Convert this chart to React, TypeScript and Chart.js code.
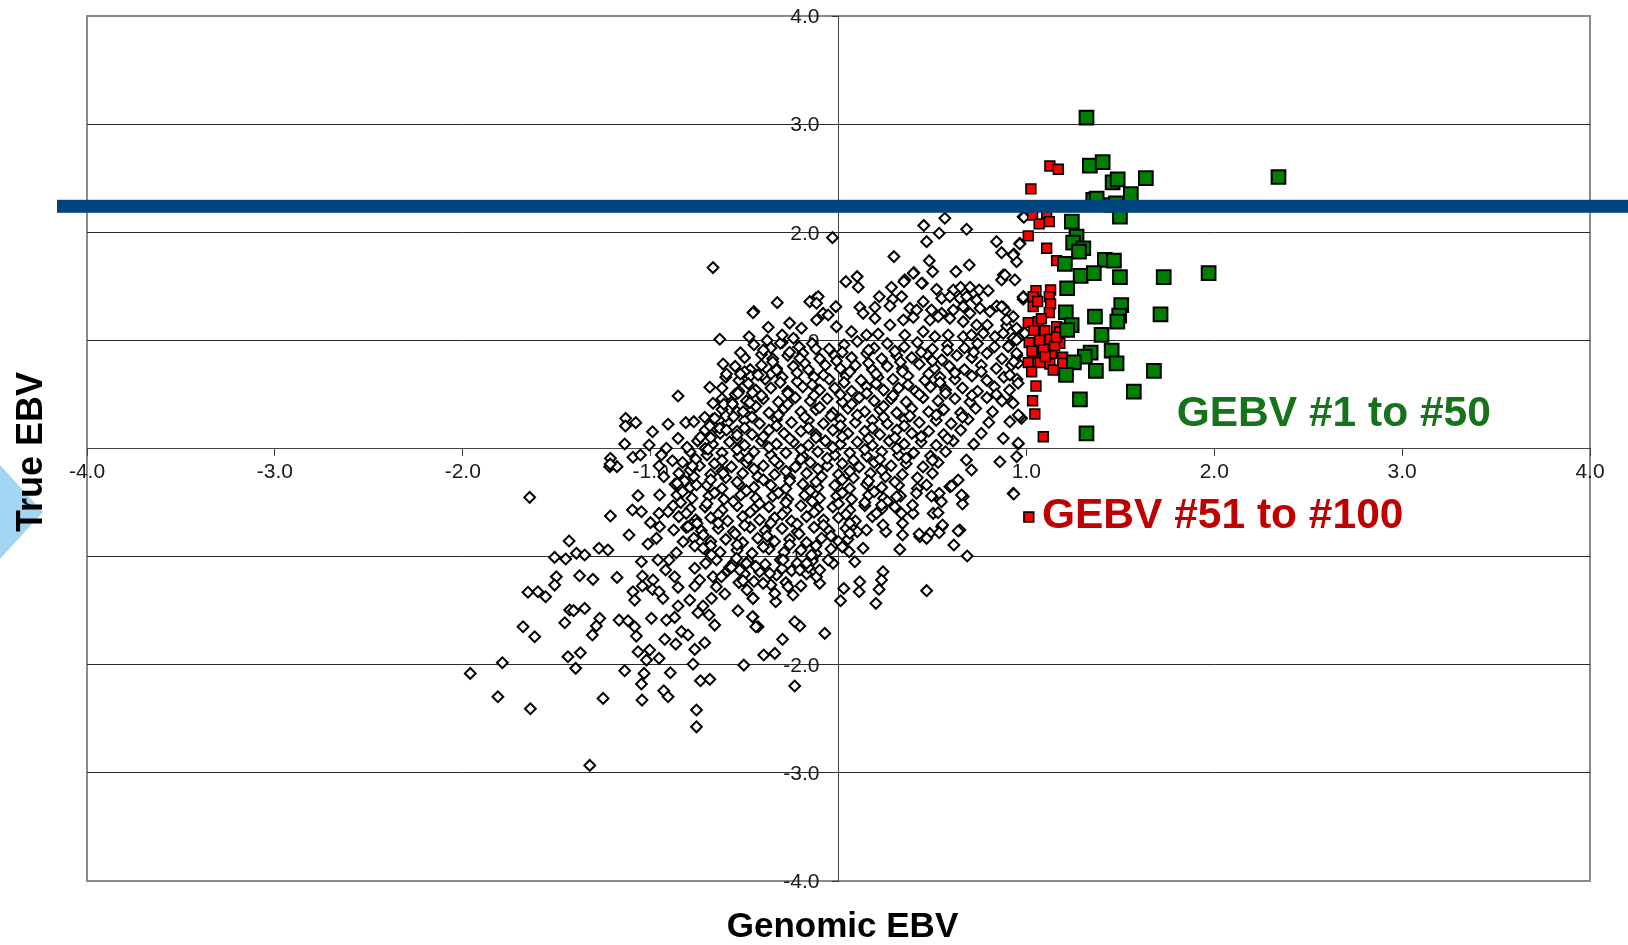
import React, { useEffect, useRef } from 'react';
import { Chart, registerables } from 'chart.js';

Chart.register(...registerables);

// ---- axes ----
const X_MIN = -4;
const X_MAX = 4;
const Y_MIN = -4;
const Y_MAX = 4;
const TICK_STEP = 1;
const X_TITLE = 'Genomic EBV';
const Y_TITLE = 'True EBV';

// threshold line on True EBV
const TRUE_EBV_THRESHOLD = 2.24;

// ---- annotation labels (data coordinates of text start / baseline) ----
const GREEN_LABEL = { text: 'GEBV #1 to #50', x: 1.8, y: 0.21 };
const RED_LABEL = { text: 'GEBV #51 to #100', x: 1.083, y: -0.735 };
const RED_LABEL_MARKER: [number, number][] = [[1.013, -0.634]];

// ---- top 50 GEBV (green) ----
const top50: [number, number][] = [
  [1.32, 3.06], [1.338, 2.616], [1.406, 2.648], [1.459, 2.462], [1.486, 2.49], [1.636, 2.5], [1.556, 2.352],
  [1.356, 2.299], [1.374, 2.31], [1.454, 2.252], [1.477, 2.268], [1.498, 2.144], [2.342, 2.511], [1.242, 2.098],
  [1.267, 1.959], [1.249, 1.904], [1.303, 1.852], [1.28, 1.82], [1.205, 1.707], [1.418, 1.744], [1.466, 1.737],
  [1.289, 1.596], [1.359, 1.621], [1.498, 1.584], [1.731, 1.584], [1.97, 1.621], [1.217, 1.482], [1.21, 1.26],
  [1.365, 1.219], [1.505, 1.327], [1.494, 1.228], [1.484, 1.173], [1.714, 1.241], [1.241, 1.142], [1.217, 1.096],
  [1.4, 1.05], [1.454, 0.905], [1.342, 0.886], [1.311, 0.849], [1.253, 0.797], [1.48, 0.788], [1.37, 0.717],
  [1.211, 0.68], [1.679, 0.717], [1.572, 0.526], [1.285, 0.455], [1.32, 0.14]
];

// ---- GEBV 51-100 (red) ----
const next50: [number, number][] = [
  [1.125, 2.613], [1.17, 2.583], [1.024, 2.401], [1.033, 2.16], [1.108, 2.176], [1.068, 2.077], [1.122, 2.098],
  [1.01, 1.966], [1.108, 1.852], [1.161, 1.737], [1.051, 1.46], [1.129, 1.466], [1.036, 1.404], [1.122, 1.404],
  [1.036, 1.312], [1.129, 1.337], [1.122, 1.256], [1.01, 1.164], [1.063, 1.173], [1.04, 1.09], [1.098, 1.09],
  [1.161, 1.127], [1.178, 1.08], [1.015, 0.979], [1.068, 0.967], [1.125, 1.01], [1.178, 0.973], [1.134, 0.881],
  [1.041, 0.881], [1.01, 0.794], [1.072, 0.794], [1.125, 0.782], [1.193, 0.844], [1.193, 0.788], [1.028, 0.71],
  [1.143, 0.726], [1.051, 0.578], [1.033, 0.442], [1.045, 0.319], [1.09, 0.109], [1.08, 1.2], [1.09, 0.92],
  [1.15, 0.95], [1.06, 1.36], [1.16, 1.03], [1.03, 0.9], [1.1, 0.85], [1.07, 1.0]
];

// ---- remaining animals (white diamonds) ----
const othersCore: [number, number][] = [
  [-0.45, 0.96], [-0.36, 0.93], [-0.3, 0.98], [-0.21, 0.94], [-0.14, 0.97], [-0.05, 0.92], [0.03, 0.96], [0.1, 0.99], [0.19, 0.93], [0.26, 0.97], [0.35, 0.94], [0.42, 0.98], [0.5, 0.92], [0.58, 0.96], [0.67, 0.93], [0.74, 0.97], [0.83, 0.94], [0.91, 0.96],
  [-0.5, 0.84], [-0.41, 0.87], [-0.35, 0.83], [-0.27, 0.86], [-0.19, 0.88], [-0.1, 0.83], [-0.02, 0.86], [0.07, 0.84], [0.15, 0.88], [0.23, 0.83], [0.31, 0.86], [0.39, 0.84], [0.47, 0.87], [0.55, 0.82], [0.63, 0.86], [0.71, 0.84], [0.79, 0.88], [0.87, 0.83], [0.95, 0.86],
  [-0.55, 0.76], [-0.47, 0.73], [-0.41, 0.77], [-0.33, 0.74], [-0.24, 0.76], [-0.16, 0.73], [-0.07, 0.77], [0.01, 0.74], [0.09, 0.77], [0.18, 0.73], [0.26, 0.76], [0.34, 0.74], [0.43, 0.78], [0.51, 0.74], [0.59, 0.76], [0.67, 0.73], [0.76, 0.77], [0.84, 0.74], [0.92, 0.77],
  [-0.6, 0.66], [-0.53, 0.63], [-0.47, 0.67], [-0.39, 0.64], [-0.3, 0.66], [-0.22, 0.62], [-0.13, 0.66], [-0.05, 0.64], [0.04, 0.67], [0.12, 0.63], [0.21, 0.66], [0.29, 0.64], [0.37, 0.67], [0.46, 0.63], [0.54, 0.66], [0.62, 0.64], [0.71, 0.67], [0.79, 0.63], [0.88, 0.66], [0.95, 0.64],
  [-0.62, 0.56], [-0.53, 0.53], [-0.44, 0.54], [-0.36, 0.56], [-0.27, 0.53], [-0.19, 0.57], [-0.1, 0.54], [-0.02, 0.56], [0.07, 0.53], [0.15, 0.57], [0.24, 0.54], [0.32, 0.56], [0.41, 0.53], [0.49, 0.57], [0.57, 0.54], [0.66, 0.56], [0.74, 0.53], [0.83, 0.57], [0.91, 0.54],
  [-0.62, 0.46], [-0.57, 0.43], [-0.49, 0.44], [-0.4, 0.46], [-0.32, 0.43], [-0.23, 0.47], [-0.15, 0.44], [-0.06, 0.46], [0.02, 0.43], [0.11, 0.47], [0.19, 0.44], [0.28, 0.46], [0.36, 0.43], [0.45, 0.47], [0.53, 0.44], [0.62, 0.46], [0.7, 0.43], [0.79, 0.47], [0.87, 0.44],
  [-0.62, 0.36], [-0.54, 0.34], [-0.46, 0.36], [-0.37, 0.33], [-0.29, 0.37], [-0.2, 0.34], [-0.12, 0.36], [-0.03, 0.33], [0.05, 0.37], [0.14, 0.34], [0.22, 0.36], [0.31, 0.33], [0.39, 0.37], [0.48, 0.34], [0.56, 0.36], [0.65, 0.33], [0.73, 0.37], [0.82, 0.34],
  [-0.67, 0.27], [-0.59, 0.24], [-0.5, 0.26], [-0.42, 0.23], [-0.33, 0.27], [-0.25, 0.24], [-0.16, 0.26], [-0.08, 0.23], [0.01, 0.27], [0.09, 0.24], [0.18, 0.26], [0.26, 0.23], [0.35, 0.27], [0.43, 0.24], [0.52, 0.26], [0.6, 0.23], [0.69, 0.27], [0.8, 0.24],
  [-0.71, 0.17], [-0.63, 0.14], [-0.54, 0.16], [-0.46, 0.13], [-0.37, 0.17], [-0.29, 0.14], [-0.2, 0.16], [-0.12, 0.13], [-0.03, 0.17], [0.05, 0.14], [0.14, 0.16], [0.22, 0.13], [0.31, 0.17], [0.39, 0.14], [0.48, 0.16], [0.56, 0.13], [0.65, 0.17], [0.76, 0.14],
  [-0.75, 0.07], [-0.67, 0.04], [-0.58, 0.06], [-0.5, 0.03], [-0.41, 0.07], [-0.33, 0.04], [-0.24, 0.06], [-0.16, 0.03], [-0.07, 0.07], [0.01, 0.04], [0.1, 0.06], [0.18, 0.03], [0.27, 0.07], [0.35, 0.04], [0.44, 0.06], [0.52, 0.03], [0.61, 0.07], [0.72, 0.04],
  [-0.79, -0.03], [-0.7, -0.06], [-0.62, -0.04], [-0.53, -0.07], [-0.45, -0.03], [-0.36, -0.06], [-0.28, -0.04], [-0.19, -0.07], [-0.11, -0.03], [-0.02, -0.06], [0.06, -0.04], [0.15, -0.07], [0.23, -0.03], [0.32, -0.06], [0.4, -0.04], [0.49, -0.07], [0.57, -0.03],
  [-0.83, -0.13], [-0.74, -0.16], [-0.66, -0.14], [-0.57, -0.17], [-0.49, -0.13], [-0.4, -0.16], [-0.32, -0.14], [-0.23, -0.17], [-0.15, -0.13], [-0.06, -0.16], [0.02, -0.14], [0.11, -0.17], [0.19, -0.13], [0.28, -0.16], [0.36, -0.14], [0.45, -0.17], [0.53, -0.13],
  [-0.85, -0.23], [-0.77, -0.26], [-0.68, -0.24], [-0.6, -0.27], [-0.51, -0.23], [-0.43, -0.26], [-0.34, -0.24], [-0.26, -0.27], [-0.17, -0.23], [-0.09, -0.26], [0.0, -0.24], [0.08, -0.27], [0.17, -0.23], [0.25, -0.26], [0.34, -0.24], [0.42, -0.27], [0.5, -0.23],
  [-0.87, -0.33], [-0.79, -0.36], [-0.7, -0.34], [-0.62, -0.37], [-0.53, -0.33], [-0.45, -0.36], [-0.36, -0.34], [-0.28, -0.37], [-0.19, -0.33], [-0.11, -0.36], [-0.02, -0.34], [0.06, -0.37], [0.15, -0.33], [0.23, -0.36], [0.32, -0.34], [0.42, -0.37],
  [-0.86, -0.43], [-0.78, -0.46], [-0.69, -0.44], [-0.61, -0.47], [-0.52, -0.43], [-0.44, -0.46], [-0.35, -0.44], [-0.27, -0.47], [-0.18, -0.43], [-0.1, -0.46], [-0.01, -0.44], [0.07, -0.47], [0.16, -0.43], [0.24, -0.46], [0.33, -0.44],
  [-0.88, -0.53], [-0.79, -0.56], [-0.71, -0.54], [-0.62, -0.57], [-0.54, -0.53], [-0.45, -0.56], [-0.37, -0.54], [-0.28, -0.57], [-0.2, -0.53], [-0.11, -0.56], [-0.03, -0.54], [0.06, -0.57], [0.14, -0.53], [0.23, -0.56], [0.3, -0.54],
  [-0.85, -0.63], [-0.76, -0.66], [-0.68, -0.64], [-0.59, -0.67], [-0.51, -0.63], [-0.42, -0.66], [-0.34, -0.64], [-0.25, -0.67], [-0.17, -0.63], [-0.08, -0.66], [0.0, -0.64], [0.09, -0.67], [0.18, -0.63],
  [-0.81, -0.73], [-0.73, -0.76], [-0.64, -0.74], [-0.56, -0.77], [-0.47, -0.73], [-0.39, -0.76], [-0.3, -0.74], [-0.22, -0.77], [-0.13, -0.73], [-0.05, -0.76], [0.04, -0.74], [0.1, -0.77],
  [-0.77, -0.83], [-0.68, -0.86], [-0.6, -0.84], [-0.51, -0.87], [-0.43, -0.83], [-0.34, -0.86], [-0.26, -0.84], [-0.17, -0.87], [-0.09, -0.83], [0.0, -0.86], [0.05, -0.84],
  [-0.71, -0.93], [-0.63, -0.96], [-0.54, -0.94], [-0.46, -0.97], [-0.37, -0.93], [-0.29, -0.96], [-0.2, -0.94], [-0.12, -0.97], [-0.04, -0.93],
  [-0.65, -1.03], [-0.56, -1.06], [-0.48, -1.04], [-0.39, -1.07], [-0.31, -1.03], [-0.22, -1.06], [-0.14, -1.04],
  [-0.59, -1.13], [-0.5, -1.16], [-0.42, -1.14], [-0.33, -1.17], [-0.25, -1.13], [-0.17, -1.16],
  [-0.53, -1.24], [-0.45, -1.23], [-0.36, -1.26], [-0.28, -1.24], [-0.2, -1.27]
];

const othersDense: [number, number][] = [
  [-0.61, 0.41], [-0.44, 0.39], [-0.27, 0.41], [-0.1, 0.38], [0.07, 0.41], [0.24, 0.39],
  [-0.66, 0.2], [-0.5, 0.19], [-0.33, 0.21], [-0.16, 0.19], [0.01, 0.21], [0.18, 0.19], [0.35, 0.21],
  [-0.71, 0.0], [-0.54, -0.01], [-0.37, 0.01], [-0.2, -0.01], [-0.03, 0.01], [0.14, -0.01], [0.31, 0.0],
  [-0.79, -0.2], [-0.62, -0.21], [-0.45, -0.19], [-0.28, -0.21], [-0.11, -0.19], [0.06, -0.21], [0.23, -0.2],
  [-0.83, -0.4], [-0.66, -0.41], [-0.49, -0.39], [-0.32, -0.41], [-0.15, -0.39], [0.02, -0.41], [0.19, -0.4],
  [-0.81, -0.6], [-0.64, -0.61], [-0.47, -0.59], [-0.3, -0.61], [-0.13, -0.59], [0.04, -0.61],
  [-0.72, -0.8], [-0.55, -0.79], [-0.38, -0.81], [-0.21, -0.79], [-0.04, -0.81],
  [-0.48, 0.6], [-0.31, 0.61], [-0.14, 0.59], [0.03, 0.61], [0.2, 0.6], [0.37, 0.59], [0.54, 0.61],
  [-0.35, 0.8], [-0.18, 0.79], [-0.01, 0.81], [0.16, 0.79], [0.33, 0.8], [0.5, 0.81]
];

const othersDenseB: [number, number][] = [
  [-0.4, 0.91], [-0.26, 0.89], [-0.12, 0.92], [0.02, 0.89], [0.16, 0.91], [0.3, 0.9], [0.44, 0.89], [0.58, 0.91], [0.72, 0.89],
  [-0.5, 0.71], [-0.36, 0.69], [-0.22, 0.7], [-0.08, 0.68], [0.06, 0.71], [0.2, 0.69], [0.34, 0.71], [0.48, 0.69], [0.62, 0.7], [0.76, 0.71],
  [-0.55, 0.5], [-0.41, 0.49], [-0.27, 0.51], [-0.13, 0.49], [0.01, 0.5], [0.15, 0.51], [0.29, 0.49], [0.43, 0.5], [0.57, 0.51], [0.71, 0.49], [0.84, 0.5],
  [-0.6, 0.3], [-0.46, 0.29], [-0.32, 0.31], [-0.18, 0.29], [-0.04, 0.3], [0.1, 0.31], [0.24, 0.29], [0.38, 0.3], [0.52, 0.31], [0.66, 0.29],
  [-0.68, 0.1], [-0.54, 0.09], [-0.4, 0.11], [-0.26, 0.09], [-0.12, 0.1], [0.02, 0.11], [0.16, 0.09], [0.3, 0.1], [0.44, 0.11], [0.58, 0.09],
  [-0.76, -0.1], [-0.62, -0.11], [-0.48, -0.09], [-0.34, -0.11], [-0.2, -0.1], [-0.06, -0.09], [0.08, -0.11], [0.22, -0.1], [0.36, -0.09], [0.5, -0.11],
  [-0.82, -0.3], [-0.68, -0.29], [-0.54, -0.31], [-0.4, -0.29], [-0.26, -0.3], [-0.12, -0.31], [0.02, -0.29], [0.16, -0.3], [0.3, -0.31],
  [-0.84, -0.5], [-0.7, -0.51], [-0.56, -0.49], [-0.42, -0.51], [-0.28, -0.5], [-0.14, -0.49], [0.0, -0.51], [0.14, -0.5], [0.26, -0.49],
  [-0.78, -0.7], [-0.64, -0.69], [-0.5, -0.71], [-0.36, -0.69], [-0.22, -0.7], [-0.08, -0.71], [0.06, -0.69],
  [-0.68, -0.9], [-0.54, -0.89], [-0.4, -0.91], [-0.26, -0.89], [-0.12, -0.9], [0.02, -0.91],
  [-0.58, -1.1], [-0.44, -1.09], [-0.3, -1.11], [-0.16, -1.1]
];

const othersUpper: [number, number][] = [
  [-0.032, 1.95], [0.295, 1.775], [0.454, 2.063], [0.566, 2.129], [0.469, 1.913], [0.536, 1.991], [0.682, 2.028],
  [0.841, 1.913], [0.868, 1.811], [0.933, 1.799], [0.948, 1.728], [0.965, 1.898], [0.983, 2.144], [0.483, 1.737],
  [0.501, 1.636], [0.625, 1.636], [0.696, 1.697], [0.877, 1.605], [0.939, 1.559], [0.039, 1.543], [0.099, 1.59],
  [0.105, 1.491], [0.401, 1.626], [0.353, 1.559], [0.447, 1.528], [-0.326, 1.349], [-0.121, 1.389], [-0.451, 1.266],
  [-0.374, 1.121], [-0.309, 0.973], [-0.206, 0.834], [-0.33, 0.726], [-0.405, 0.68],
  [0.282, 1.491], [0.348, 1.543], [0.398, 1.621], [0.442, 1.528], [0.522, 1.472], [0.611, 1.466], [0.65, 1.491],
  [0.7, 1.491], [0.749, 1.466], [0.797, 1.46], [0.868, 1.559], [0.886, 1.605], [-0.108, 1.405], [-0.153, 1.358],
  [-0.117, 1.343], [0.217, 1.405], [0.288, 1.38], [0.336, 1.405], [0.451, 1.358], [0.549, 1.389], [0.593, 1.405],
  [0.646, 1.389], [0.682, 1.405], [0.735, 1.374], [0.842, 1.318], [0.877, 1.306], [0.984, 1.405], [-0.014, 1.312],
  [0.114, 1.306], [0.194, 1.306], [0.274, 1.318], [0.38, 1.297], [0.416, 1.281], [0.495, 1.281], [0.549, 1.25],
  [0.611, 1.281], [0.664, 1.312], [0.7, 1.25], [0.753, 1.297], [0.806, 1.266], [0.886, 1.281], [0.93, 1.22],
  [-0.082, 1.25], [-0.117, 1.189], [-0.055, 1.235], [0.131, 1.25], [0.194, 1.204], [0.345, 1.189], [0.398, 1.213],
  [0.487, 1.189], [0.531, 1.22], [0.593, 1.204], [0.664, 1.173], [0.735, 1.142], [0.792, 1.142], [0.895, 1.133],
  [0.948, 1.112], [-0.197, 1.112], [-0.011, 1.127], [0.069, 1.081], [0.149, 1.05], [0.211, 1.059], [0.274, 1.142],
  [0.353, 1.05], [0.451, 1.081], [0.513, 1.035], [0.584, 1.05], [0.664, 1.035], [0.708, 1.05], [0.771, 1.065],
  [0.833, 1.035], [0.877, 1.065], [0.957, 1.019], [-0.26, 1.16], [-0.3, 1.05], [-0.38, 1.0], [-0.24, 1.02]
];

const othersUpperLeft: [number, number][] = [
  [-0.668, 1.673], [-0.455, 1.256], [-0.632, 1.01], [-0.476, 1.034], [-0.522, 0.886], [-0.614, 0.782], [-0.596, 0.689],
  [-0.522, 0.689], [-0.428, 0.68], [-0.685, 0.566], [-0.854, 0.486], [-0.535, 0.511], [-0.458, 0.516], [-0.668, 0.418],
  [-0.564, 0.412], [-0.472, 0.424], [-1.133, 0.279], [-1.079, 0.239], [-1.134, 0.208], [-0.99, 0.155], [-0.907, 0.224],
  [-0.813, 0.239], [-0.77, 0.248], [-0.712, 0.289], [-0.659, 0.279], [-0.685, 0.208], [-0.854, 0.094], [-0.735, 0.104],
  [-0.632, 0.187], [-0.596, 0.171], [-0.54, 0.125], [-0.558, 0.294], [-0.508, 0.34], [-1.138, 0.042], [-1.008, 0.032],
  [-0.916, 0.002], [-0.806, 0.011], [-0.694, -0.007], [-1.094, -0.081], [-1.054, -0.06], [-1.214, -0.091],
  [-1.218, -0.168], [-1.179, -0.168], [-0.943, -0.06], [-0.884, -0.113], [-0.955, -0.162], [-0.778, -0.162],
  [-0.93, -0.261], [-0.859, -0.322], [-0.756, -0.338], [-0.614, -0.23]
];

const othersRightEdge: [number, number][] = [
  [0.987, 2.139], [0.965, 1.892], [0.93, 1.79], [0.983, 1.38], [0.868, 1.312], [0.895, 1.189], [0.93, 1.019],
  [0.903, 0.942], [0.948, 0.881], [0.956, 0.788], [0.912, 0.68], [0.956, 0.603], [0.921, 0.433], [0.974, 0.279],
  [0.912, 0.248], [0.983, 1.399], [0.992, 1.066], [0.948, 1.004], [0.933, 0.803], [0.93, 0.418], [0.965, 0.294],
  [0.956, 0.042], [0.957, 0.31], [0.877, 0.094], [0.957, 0.048], [0.948, -0.075], [0.859, -0.122], [0.93, -0.415],
  [0.681, -0.106], [0.708, -0.199], [0.637, -0.291], [0.664, -0.445], [0.646, -0.754], [0.593, -0.353],
  [0.54, -0.476], [0.504, -0.6], [0.549, -0.723], [0.486, -0.785], [0.433, -0.816]
];

const othersLowerRight: [number, number][] = [
  [0.933, -0.421], [0.685, -0.994], [0.637, -0.763], [0.614, -0.893], [0.66, -0.513], [0.655, -0.43], [0.602, -0.347],
  [0.536, -0.415], [0.548, -0.492], [0.53, -0.594], [0.554, -0.708], [0.536, -0.779], [0.469, -0.831], [0.429, -0.791],
  [0.469, -1.315], [0.341, -0.8], [0.326, -0.933], [0.341, -0.692], [0.397, -0.6], [0.394, -0.523], [0.415, -0.415],
  [0.469, -0.338], [0.495, -0.439], [0.252, -0.769], [0.237, -0.708], [0.237, -1.14], [0.229, -1.216], [0.216, -1.303],
  [0.199, -1.432], [0.113, -1.232], [0.11, -1.325], [0.028, -1.294], [0.011, -1.408], [0.087, -1.047], [0.057, -0.955],
  [0.131, -0.923], [-0.073, -1.71], [-0.206, -1.642], [-0.233, -1.602], [-0.298, -1.765], [-0.398, -1.91],
  [-0.339, -1.895], [-0.233, -2.197], [-0.428, -1.648], [-0.455, -1.556], [-0.334, -1.417], [-0.1, -1.247],
  [-0.029, -1.062], [-0.455, -1.386], [-0.339, -1.34], [-0.242, -1.355], [-0.268, -1.278], [-0.117, -1.186],
  [-0.055, -1.031], [-0.1, -1.124], [-0.17, -1.062], [-0.206, -1.124], [-0.144, -0.985], [-0.295, -1.031],
  [-0.366, -1.155], [-0.401, -1.247], [0.149, -0.754], [0.06, -0.785], [0.335, -0.6], [0.309, -0.446], [0.229, -0.523],
  [0.202, -0.6]
];

const othersLowerLeft: [number, number][] = [
  [-1.644, -0.452], [-1.214, -0.624], [-1.067, -0.436], [-1.097, -0.569], [-1.049, -0.585], [-1.115, -0.8],
  [-1.434, -0.856], [-1.511, -1.007], [-1.452, -1.022], [-1.395, -0.969], [-1.351, -0.985], [-1.275, -0.923],
  [-1.227, -0.939], [-1.502, -1.186], [-1.511, -1.263], [-1.378, -1.177], [-1.307, -1.21], [-1.179, -1.192],
  [-1.653, -1.33], [-1.6, -1.325], [-1.559, -1.371], [-1.431, -1.494], [-1.41, -1.5], [-1.351, -1.479],
  [-1.457, -1.611], [-1.679, -1.648], [-1.617, -1.741], [-1.271, -1.571], [-1.289, -1.642], [-1.31, -1.725],
  [-1.168, -1.587], [-1.12, -1.593], [-1.085, -1.648], [-1.076, -1.735], [-1.067, -1.88], [-1.005, -1.864],
  [-1.022, -1.957], [-0.955, -1.941], [-1.44, -1.926], [-1.374, -1.889], [-1.399, -2.033], [-1.789, -1.981],
  [-1.96, -2.08], [-1.813, -2.296], [-1.64, -2.407], [-1.253, -2.311], [-1.138, -2.056], [-1.035, -2.08],
  [-1.049, -2.178], [-1.046, -2.327], [-0.895, -2.074], [-0.93, -2.24], [-0.907, -2.296], [-0.774, -1.994],
  [-0.735, -2.148], [-0.685, -2.135], [-0.756, -2.419], [-0.756, -2.574], [-1.324, -2.931], [-0.504, -2.003],
  [-0.925, -1.765], [-0.866, -1.809], [-0.836, -1.694], [-0.801, -1.725], [-0.765, -1.858], [-0.712, -1.796],
  [-0.659, -1.633], [-0.748, -1.519], [-0.689, -1.54], [-0.854, -1.457], [-0.792, -1.402], [-0.535, -1.5],
  [-0.458, -1.556], [-0.44, -1.648], [-0.916, -1.587], [-0.872, -1.562], [-0.996, -1.571], [-1.094, -1.325],
  [-1.085, -1.402], [-1.044, -1.272], [-1.044, -1.18], [-1.049, -1.047], [-0.987, -1.216], [-0.99, -1.303],
  [-0.934, -1.386], [-0.955, -1.325], [-0.961, -1.031], [-0.92, -1.124], [-0.872, -1.186], [-0.854, -1.284],
  [-1.014, -0.883], [-0.969, -0.831], [-0.952, -0.723], [-1.001, -0.686], [-0.955, -0.6], [-0.952, -0.43],
  [-0.907, -0.585], [-0.877, -0.754], [-0.827, -0.862], [-0.801, -0.723], [-0.753, -0.692], [-0.765, -0.902],
  [-0.721, -0.923], [-0.707, -1.062], [-0.676, -0.985], [-0.765, -1.108], [-0.739, -1.216], [-0.765, -1.272],
  [-0.668, -1.186], [-0.623, -1.186], [-0.65, -1.278], [-0.605, -1.346], [-0.676, -1.386], [-0.721, -1.457],
  [-0.508, -1.223], [-0.487, -1.309], [-0.455, -1.386], [-0.526, -1.124], [-0.57, -1.099], [-0.543, -1.016],
  [-0.49, -1.062], [-0.863, -0.964], [-0.902, -1.031], [-1.215, -0.144]
];

const toPoints = (arr: [number, number][]) => arr.map(([x, y]) => ({ x, y }));

const FONT = '"Liberation Sans", Arial, Helvetica, sans-serif';
const tickLabel = (v: any) => (Number(v) === 0 ? '' : Number(v).toFixed(1));

const overlayPlugin = {
  id: 'overlay',
  beforeDraw(chart: any) {
    const { ctx, chartArea: a } = chart;
    ctx.save();
    ctx.fillStyle = '#ffffff';
    ctx.fillRect(0, 0, chart.width, chart.height);
    ctx.strokeStyle = '#8a8a8a';
    ctx.lineWidth = 2;
    ctx.strokeRect(a.left, a.top, a.right - a.left, a.bottom - a.top);
    ctx.restore();
  },
  beforeDatasetsDraw(chart: any) {
    // y tick labels, placed beside the crossing axis (drawn beneath the points)
    const { ctx } = chart;
    const xs = chart.scales.x;
    const ys = chart.scales.y;
    const axisX = xs.getPixelForValue(0);
    ctx.save();
    ctx.fillStyle = '#1a1a1a';
    ctx.font = `21px ${FONT}`;
    ctx.textAlign = 'right';
    ctx.textBaseline = 'middle';
    ys.ticks.forEach((t: any) => {
      const label = tickLabel(t.value);
      if (!label) return;
      ctx.fillText(label, axisX - 19, ys.getPixelForValue(t.value) + 1.5);
    });
    ctx.restore();
  },
  afterDatasetsDraw(chart: any) {
    const { ctx } = chart;
    const xs = chart.scales.x;
    const ys = chart.scales.y;
    ctx.save();
    // slide decoration: light-blue pointer on the left
    ctx.fillStyle = '#a3d6f3';
    ctx.beginPath();
    ctx.moveTo(0, 465);
    ctx.lineTo(43, 512);
    ctx.lineTo(0, 559);
    ctx.closePath();
    ctx.fill();
    // threshold line
    const yb = ys.getPixelForValue(TRUE_EBV_THRESHOLD);
    ctx.fillStyle = '#00447f';
    ctx.fillRect(57, yb - 6.5, chart.width - 57, 13);
    // axis titles
    ctx.fillStyle = '#000';
    ctx.font = `bold 35px ${FONT}`;
    ctx.textAlign = 'center';
    ctx.textBaseline = 'alphabetic';
    ctx.fillText(X_TITLE, (xs.left + xs.right) / 2 + 4, 937);
    ctx.save();
    ctx.translate(42, 452);
    ctx.rotate(-Math.PI / 2);
    ctx.font = `bold 36px ${FONT}`;
    ctx.fillText(Y_TITLE, 0, 0);
    ctx.restore();
    // annotation labels
    ctx.textAlign = 'left';
    ctx.font = `bold 42.5px ${FONT}`;
    ctx.fillStyle = '#17731b';
    ctx.fillText(GREEN_LABEL.text, xs.getPixelForValue(GREEN_LABEL.x), ys.getPixelForValue(GREEN_LABEL.y));
    ctx.fillStyle = '#c00000';
    ctx.fillText(RED_LABEL.text, xs.getPixelForValue(RED_LABEL.x), ys.getPixelForValue(RED_LABEL.y));
    ctx.restore();
  }
};

const edgeTransparent = (c: any) =>
  c.tick && Math.abs(c.tick.value) === 4 ? 'rgba(0,0,0,0)' : '#2a2a2a';

export default function App() {
  const ref = useRef<HTMLCanvasElement>(null);
  useEffect(() => {
    document.body.style.margin = '0';
    const canvas = ref.current;
    if (!canvas) return;
    const others = [
      ...othersCore, ...othersDense, ...othersDenseB, ...othersUpper, ...othersUpperLeft,
      ...othersRightEdge, ...othersLowerRight, ...othersLowerLeft
    ];
    const chart = new Chart(canvas, {
      type: 'scatter',
      data: {
        datasets: [
          {
            label: 'GEBV #1 to #50',
            data: toPoints(top50),
            pointStyle: 'rect',
            pointRadius: 9.7,
            backgroundColor: '#008000',
            borderColor: '#000',
            borderWidth: 2,
            order: 0
          },
          {
            label: 'GEBV #51 to #100',
            data: toPoints(next50),
            pointStyle: 'rect',
            pointRadius: 6.9,
            backgroundColor: '#ff0000',
            borderColor: '#000',
            borderWidth: 1.6,
            order: 1
          },
          {
            label: 'marker',
            data: toPoints(RED_LABEL_MARKER),
            pointStyle: 'rect',
            pointRadius: 6.9,
            backgroundColor: '#ff0000',
            borderColor: '#000',
            borderWidth: 1.6,
            order: 1
          },
          {
            label: 'Other',
            data: toPoints(others),
            pointStyle: 'rectRot',
            pointRadius: 5.4,
            backgroundColor: '#ffffff',
            borderColor: '#000',
            borderWidth: 2,
            order: 2
          }
        ]
      },
      options: {
        animation: false,
        responsive: false,
        devicePixelRatio: 1,
        events: [],
        layout: { padding: { left: 87, top: 16, right: 38, bottom: 64 } },
        plugins: { legend: { display: false }, tooltip: { enabled: false }, title: { display: false } },
        scales: {
          x: {
            type: 'linear',
            min: X_MIN,
            max: X_MAX,
            position: { y: 0 },
            ticks: {
              stepSize: TICK_STEP,
              autoSkip: false,
              maxRotation: 0,
              callback: tickLabel,
              color: '#1a1a1a',
              font: { family: FONT, size: 21 },
              padding: 4
            },
            grid: { drawOnChartArea: false, drawTicks: true, tickLength: 7, color: '#444', lineWidth: 1 },
            border: { display: true, color: '#444', width: 1 }
          },
          y: {
            type: 'linear',
            min: Y_MIN,
            max: Y_MAX,
            position: { x: 0 },
            ticks: { stepSize: TICK_STEP, display: false },
            grid: {
              drawOnChartArea: true,
              drawTicks: true,
              tickLength: 6,
              color: edgeTransparent,
              tickColor: '#333',
              lineWidth: 1
            },
            border: { display: true, color: '#444', width: 1 }
          }
        }
      },
      plugins: [overlayPlugin]
    } as any);
    return () => chart.destroy();
  }, []);
  return (
    <div style={{ position: 'absolute', left: 0, top: 0, width: 1628, height: 945, background: '#fff' }}>
      <canvas ref={ref} width={1628} height={945} style={{ width: 1628, height: 945, display: 'block' }} />
    </div>
  );
}
